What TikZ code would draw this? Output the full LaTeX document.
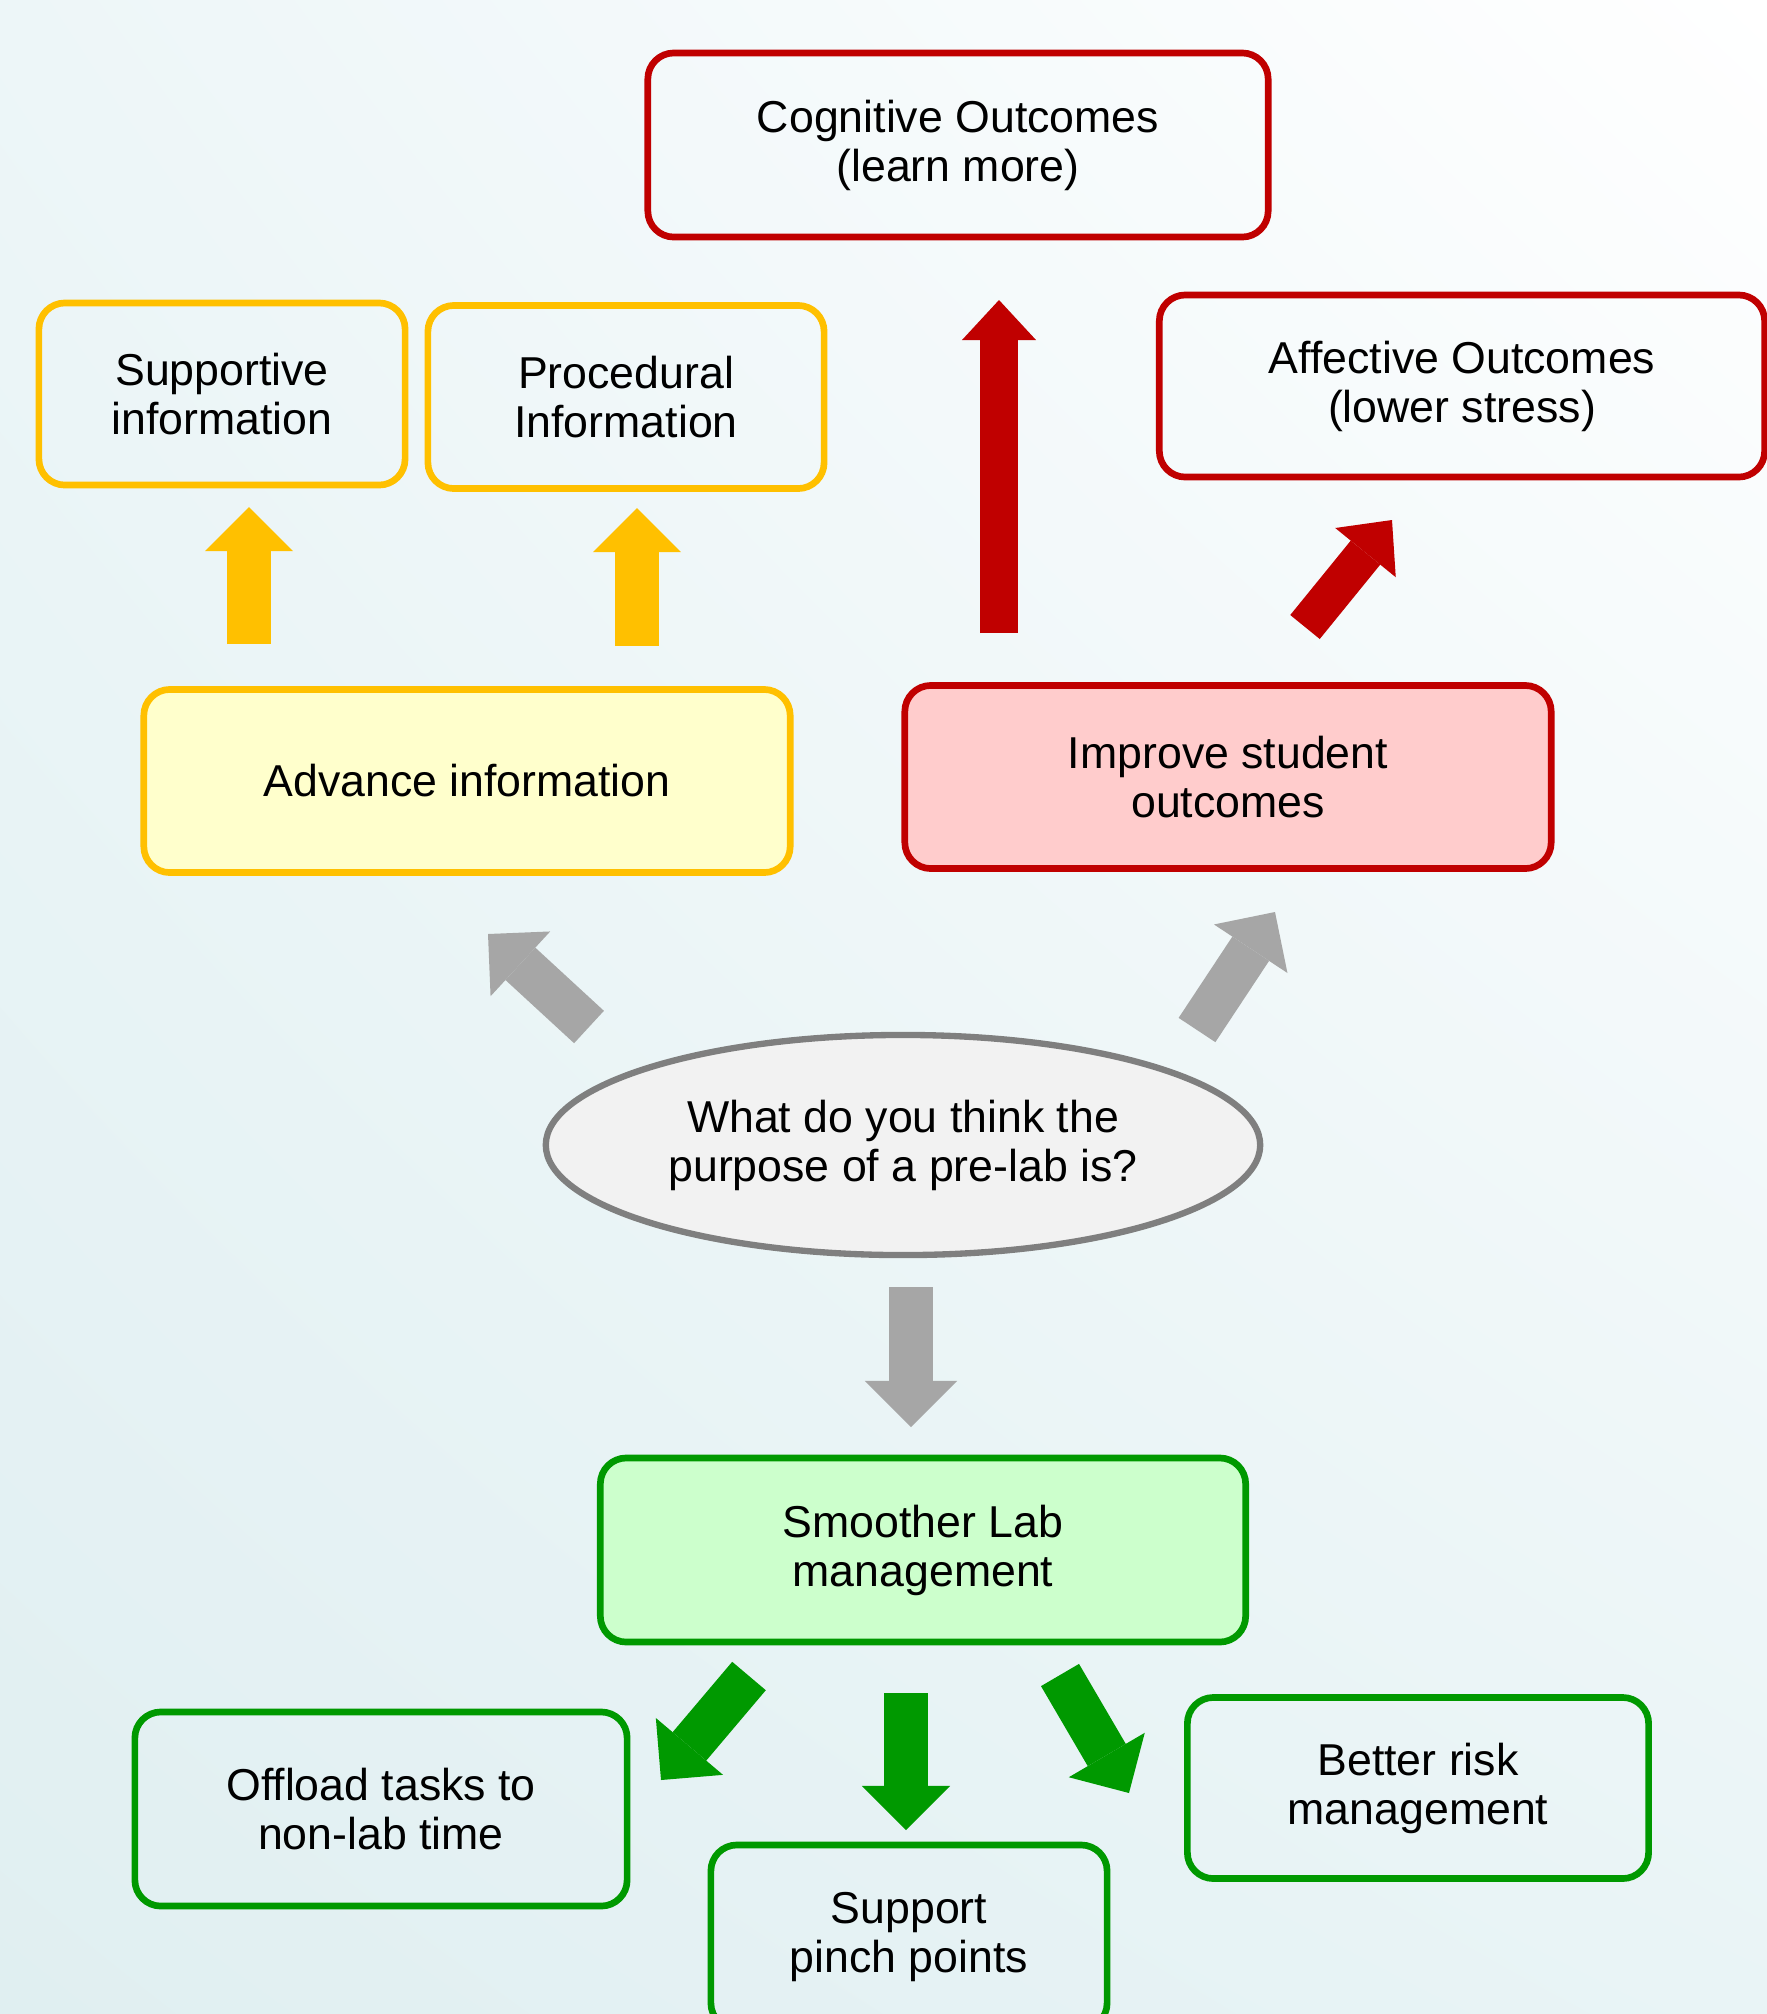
\documentclass[tikz,border=0pt]{standalone}
\usepackage{fontspec}
\setmainfont{Liberation Sans}
\usetikzlibrary{arrows.meta,shapes.geometric,shadings}
\definecolor{outred}{HTML}{C00000}
\definecolor{outfill}{HTML}{FFCCCC}
\definecolor{infoyel}{HTML}{FFC000}
\definecolor{infofill}{HTML}{FFFFCC}
\definecolor{labgreen}{HTML}{009900}
\definecolor{labfill}{HTML}{CCFFCC}
\definecolor{qgray}{HTML}{7F7F7F}
\definecolor{qfill}{HTML}{F2F2F2}
\definecolor{arrgray}{HTML}{A6A6A6}
\definecolor{bgtl}{HTML}{EDF6F8}
\definecolor{bgbl}{HTML}{E0EFF1}
\definecolor{bgbr}{HTML}{E9F4F6}
\begin{document}
\begin{tikzpicture}[x=0.01cm, y=-0.01cm, font=\fontsize{12.7}{13.9}\selectfont,
  box/.style={rectangle, rounded corners=0.26cm, line width=1.9pt, align=center, inner sep=0pt},
  red box/.style={box, draw=outred},
  yel box/.style={box, draw=infoyel},
  green box/.style={box, draw=labgreen},
  fat arrow/.style={line width=0.44cm, -{Triangle[length=0.44cm, width=0.88cm, line width=0pt]}}]
\useasboundingbox (0,0) rectangle (1767,2014);
\shade[upper left=bgtl, upper right=white, lower left=bgbl, lower right=bgbr] (0,0) rectangle (1767,2014);
\begin{scope}
\node[red box, minimum width=6.20cm, minimum height=1.84cm] (cog) at (958,145) {Cognitive Outcomes\\(learn more)};
\node[yel box, minimum width=3.66cm, minimum height=1.82cm] (supinfo) at (222,394) {Supportive\\information};
\node[yel box, minimum width=3.96cm, minimum height=1.83cm] (procinfo) at (626,397) {Procedural\\Information};
\node[red box, minimum width=6.05cm, minimum height=1.82cm] (aff) at (1462,386) {Affective Outcomes\\(lower stress)};
\node[yel box, fill=infofill, minimum width=6.46cm, minimum height=1.83cm] (adv) at (467,781) {Advance information};
\node[red box, fill=outfill, minimum width=6.46cm, minimum height=1.83cm] (imp) at (1228,777) {Improve student\\outcomes};
\node[ellipse, draw=qgray, fill=qfill, line width=1.8pt, align=center, inner sep=0pt, minimum width=7.14cm, minimum height=2.20cm] (quest) at (903,1145) {What do you think the\\purpose of a pre-lab is?};
\node[green box, fill=labfill, minimum width=6.45cm, minimum height=1.84cm] (smooth) at (923,1550) {Smoother Lab\\management};
\node[green box, minimum width=4.92cm, minimum height=1.94cm] (offload) at (381,1809) {Offload tasks to\\non-lab time};
\node[green box, minimum width=3.96cm, minimum height=1.84cm] (pinch) at (909,1937) {Support\\pinch points};
\node[green box, minimum width=4.61cm, minimum height=1.81cm] (risk) at (1418,1788) {Better risk\\management};
\end{scope}
\begin{scope}
% arrow ends
\coordinate (ys1) at (249,644); \coordinate (yt1) at (249,507);
\coordinate (ys2) at (637,646); \coordinate (yt2) at (637,508);
\coordinate (rs1) at (999,633); \coordinate (rt1) at (999,300);
\coordinate (rs2) at (1305,627); \coordinate (rt2) at (1392,520);
\coordinate (gs1) at (589,1027); \coordinate (gt1) at (488,934);
\coordinate (gs2) at (1197,1030); \coordinate (gt2) at (1275,912);
\coordinate (gs3) at (911,1287); \coordinate (gt3) at (911,1427);
\coordinate (ls1) at (749,1676); \coordinate (lt1) at (661,1780);
\coordinate (ls2) at (906,1693); \coordinate (lt2) at (906,1830);
\coordinate (ls3) at (1060,1675); \coordinate (lt3) at (1129,1793);
\draw[fat arrow, infoyel] (ys1) -- (yt1);
\draw[fat arrow, infoyel] (ys2) -- (yt2);
\draw[fat arrow, outred, line width=0.38cm, -{Triangle[length=0.40cm, width=0.74cm, line width=0pt]}] (rs1) -- (rt1);
\draw[fat arrow, outred, line width=0.38cm, -{Triangle[length=0.42cm, width=0.78cm, line width=0pt]}] (rs2) -- (rt2);
\draw[fat arrow, arrgray] (gs1) -- (gt1);
\draw[fat arrow, arrgray] (gs2) -- (gt2);
\draw[fat arrow, arrgray, -{Triangle[length=0.46cm, width=0.92cm, line width=0pt]}] (gs3) -- (gt3);
\draw[fat arrow, labgreen] (ls1) -- (lt1);
\draw[fat arrow, labgreen] (ls2) -- (lt2);
\draw[fat arrow, labgreen] (ls3) -- (lt3);
\end{scope}
\end{tikzpicture}
\end{document}
